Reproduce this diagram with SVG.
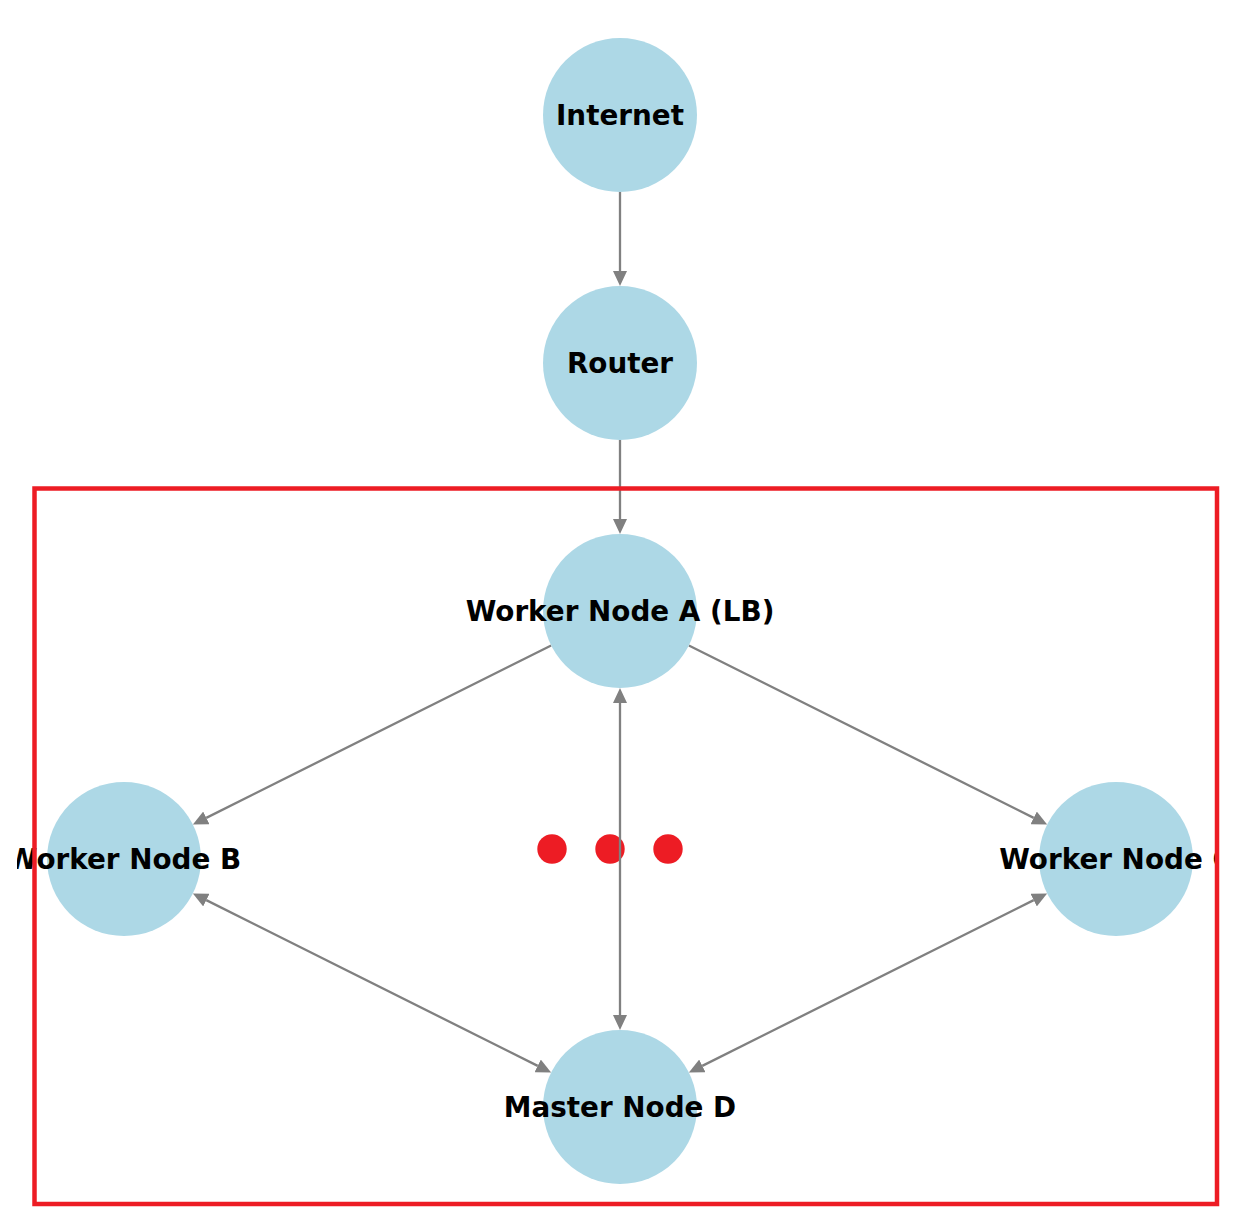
<svg xmlns="http://www.w3.org/2000/svg" width="1239" height="1231" viewBox="0 0 1239 1231">
<style>
.node{fill:#ADD8E6}
.lbl{font-family:"DejaVu Sans",sans-serif;font-weight:bold;font-size:27.8px;fill:#000;text-anchor:middle;dominant-baseline:central}
.edge{stroke:#808080;stroke-width:2.3;fill:none}
.dot{fill:#ED1C24}
</style>
<defs>
<marker id="ah" markerUnits="userSpaceOnUse" markerWidth="15" markerHeight="14" refX="0" refY="7" orient="auto-start-reverse" viewBox="0 0 15 14">
<path d="M0,0 L15,7 L0,14 z" fill="#808080"/>
</marker>
<clipPath id="clip"><rect x="17" y="0" width="1202" height="1231"/></clipPath>
</defs>
<rect width="1239" height="1231" fill="#fff"/>
<g id="dots">
<circle class="dot" cx="552" cy="849" r="14.7"/>
<circle class="dot" cx="610" cy="849" r="14.7"/>
<circle class="dot" cx="668" cy="849" r="14.7"/>
</g>
<g id="edges">
<line class="edge" x1="620" y1="192" x2="620" y2="271" marker-end="url(#ah)"/>
<line class="edge" x1="620" y1="440" x2="620" y2="519" marker-end="url(#ah)"/>
<line class="edge" x1="551.13" y1="645.43" x2="206.29" y2="817.86" marker-end="url(#ah)"/>
<line class="edge" x1="688.87" y1="645.43" x2="1033.71" y2="817.86" marker-end="url(#ah)"/>
<line class="edge" x1="620" y1="703" x2="620" y2="1015" marker-start="url(#ah)" marker-end="url(#ah)"/>
<line class="edge" x1="206.29" y1="900.14" x2="537.71" y2="1065.86" marker-start="url(#ah)" marker-end="url(#ah)"/>
<line class="edge" x1="1033.71" y1="900.14" x2="702.29" y2="1065.86" marker-start="url(#ah)" marker-end="url(#ah)"/>
</g>
<g id="internet"><circle class="node" cx="620" cy="115" r="77"/><text class="lbl" x="620" y="115" clip-path="url(#clip)">Internet</text></g>
<g id="router"><circle class="node" cx="620" cy="363" r="77"/><text class="lbl" x="620" y="363" clip-path="url(#clip)">Router</text></g>
<g id="workerA"><circle class="node" cx="620" cy="611" r="77"/><text class="lbl" x="620" y="611" clip-path="url(#clip)">Worker Node A (LB)</text></g>
<g id="workerB"><circle class="node" cx="124" cy="859" r="77"/><text class="lbl" x="124" y="859" clip-path="url(#clip)">Worker Node B</text></g>
<g id="workerC"><circle class="node" cx="1116" cy="859" r="77"/><text class="lbl" x="1116" y="859" clip-path="url(#clip)">Worker Node C</text></g>
<g id="masterD"><circle class="node" cx="620" cy="1107" r="77"/><text class="lbl" x="620" y="1107" clip-path="url(#clip)">Master Node D</text></g>
<rect id="cluster" x="34.5" y="488.5" width="1182.5" height="715.5" fill="none" stroke="#ED1C24" stroke-width="4.5"/>
</svg>
